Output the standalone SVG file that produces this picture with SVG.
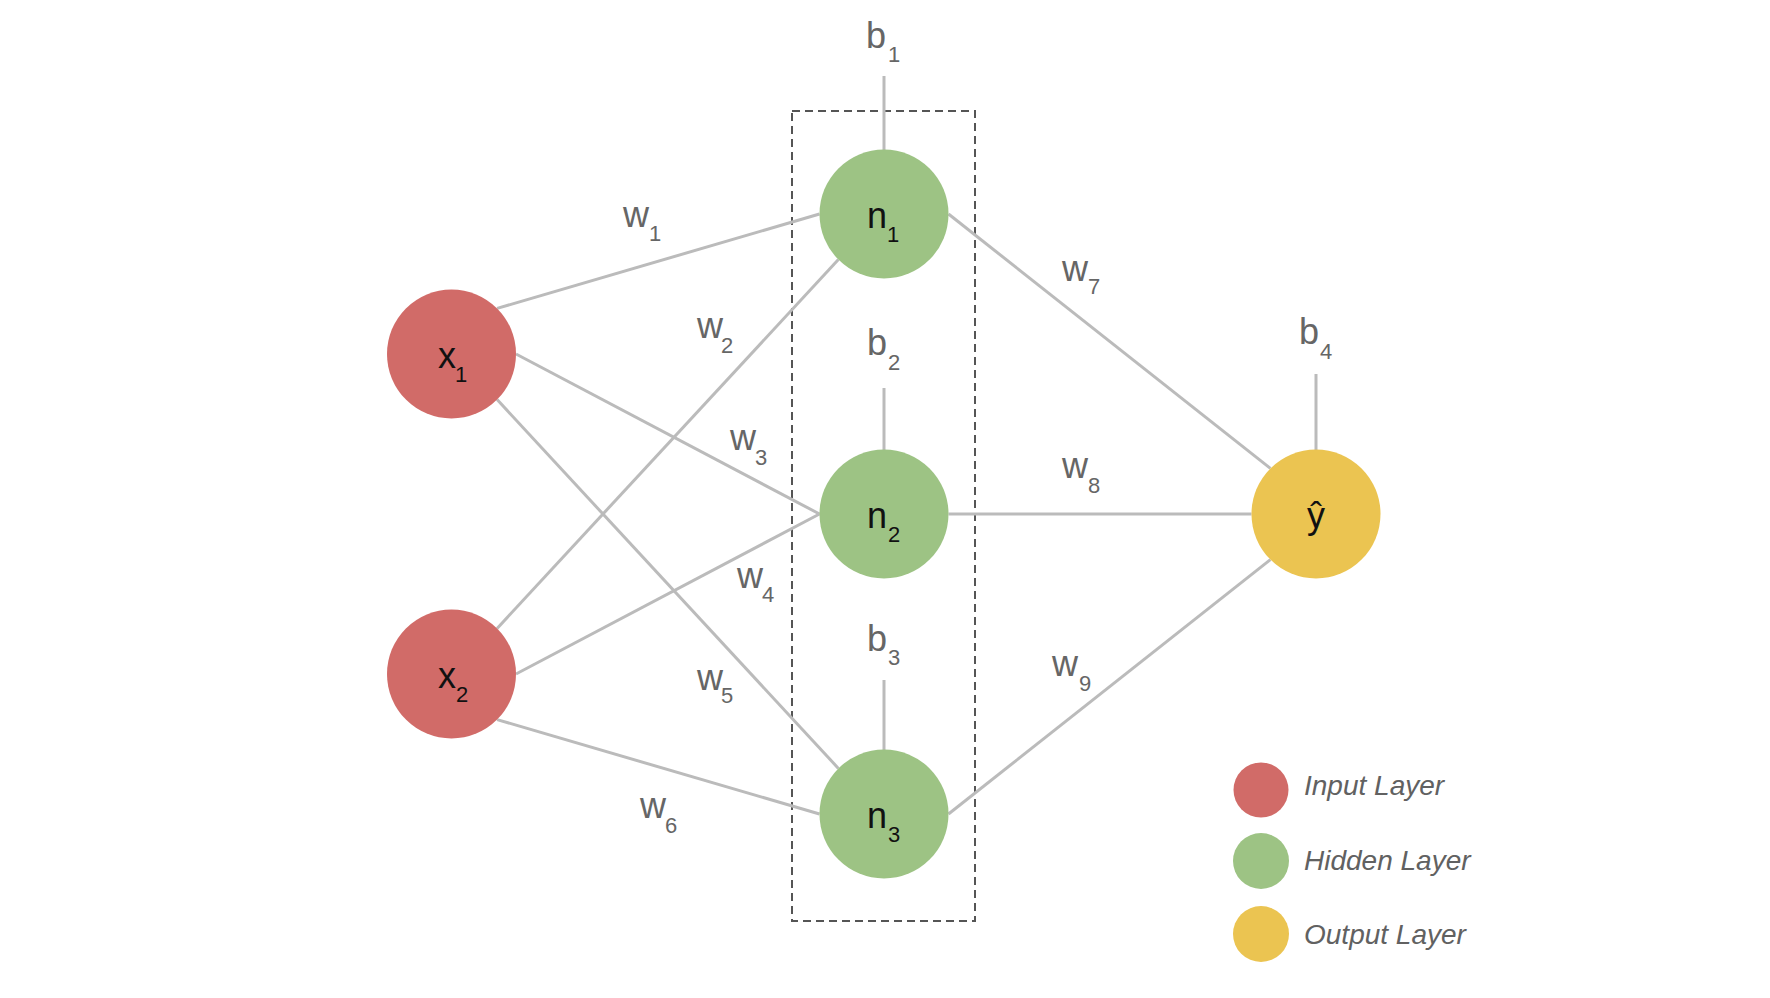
<svg xmlns="http://www.w3.org/2000/svg" width="1770" height="998" viewBox="0 0 1770 998">
<style>
.edge{stroke:#bbbbbb;stroke-width:3;fill:none}
.box{stroke:#555555;stroke-width:2;fill:none;stroke-dasharray:8 5}
.in{fill:#d16b68}
.hid{fill:#9dc384}
.out{fill:#ebc451}
.lbl{font-family:"Liberation Sans",Arial,sans-serif;font-size:36px;fill:#111111}
.gl{font-family:"Liberation Sans",Arial,sans-serif;font-size:36px;fill:#666666}
.sub{font-size:22px}
.leg{font-family:"Liberation Sans",Arial,sans-serif;font-size:28px;font-style:italic;fill:#616161}
</style>
<rect width="1770" height="998" fill="#ffffff"/>
<rect class="box" x="792" y="111" width="183" height="810"/>
<g id="connectors">
<line class="edge" x1="497.1" y1="308.4" x2="819.5" y2="214"/>
<line class="edge" x1="516" y1="354" x2="819.5" y2="514"/>
<line class="edge" x1="497.1" y1="399.6" x2="838.4" y2="768.4"/>
<line class="edge" x1="497.1" y1="628.4" x2="838.4" y2="259.6"/>
<line class="edge" x1="516" y1="674" x2="819.5" y2="514"/>
<line class="edge" x1="497.1" y1="719.6" x2="819.5" y2="814"/>
<line class="edge" x1="948.5" y1="214" x2="1270.4" y2="468.4"/>
<line class="edge" x1="948.5" y1="514" x2="1251.5" y2="514"/>
<line class="edge" x1="948.5" y1="814" x2="1270.4" y2="559.6"/>
<line class="edge" x1="884" y1="76" x2="884" y2="150"/>
<line class="edge" x1="884" y1="388" x2="884" y2="450"/>
<line class="edge" x1="884" y1="680" x2="884" y2="750"/>
<line class="edge" x1="1316" y1="374" x2="1316" y2="450"/>
<text class="gl" x="623" y="227">w<tspan class="sub" x="649" y="241">1</tspan></text>
<text class="gl" x="697" y="338">w<tspan class="sub" x="721" y="353">2</tspan></text>
<text class="gl" x="730" y="450">w<tspan class="sub" x="755" y="465">3</tspan></text>
<text class="gl" x="737" y="588">w<tspan class="sub" x="762" y="602">4</tspan></text>
<text class="gl" x="697" y="690">w<tspan class="sub" x="721" y="703">5</tspan></text>
<text class="gl" x="640" y="818">w<tspan class="sub" x="665" y="833">6</tspan></text>
<text class="gl" x="1062" y="281">w<tspan class="sub" x="1088" y="294">7</tspan></text>
<text class="gl" x="1062" y="478">w<tspan class="sub" x="1088" y="493">8</tspan></text>
<text class="gl" x="1052" y="676">w<tspan class="sub" x="1079" y="691">9</tspan></text>
</g>
<g id="bias1"><text class="gl" x="866" y="48">b<tspan class="sub" x="888" y="62">1</tspan></text></g>
<g id="bias2"><text class="gl" x="867" y="355">b<tspan class="sub" x="888" y="370">2</tspan></text></g>
<g id="bias3"><text class="gl" x="867" y="651">b<tspan class="sub" x="888" y="665">3</tspan></text></g>
<g id="bias4"><text class="gl" x="1299" y="344">b<tspan class="sub" x="1320" y="359">4</tspan></text></g>
<g id="x1"><circle class="in" cx="451.5" cy="354" r="64.5"/><text class="lbl" x="438" y="368">x<tspan class="sub" x="455" y="382">1</tspan></text></g>
<g id="x2"><circle class="in" cx="451.5" cy="674" r="64.5"/><text class="lbl" x="438" y="688">x<tspan class="sub" x="456" y="702">2</tspan></text></g>
<g id="n1"><circle class="hid" cx="884" cy="214" r="64.5"/><text class="lbl" x="867" y="228">n<tspan class="sub" x="887" y="242">1</tspan></text></g>
<g id="n2"><circle class="hid" cx="884" cy="514" r="64.5"/><text class="lbl" x="867" y="528">n<tspan class="sub" x="888" y="542">2</tspan></text></g>
<g id="n3"><circle class="hid" cx="884" cy="814" r="64.5"/><text class="lbl" x="867" y="828">n<tspan class="sub" x="888" y="842">3</tspan></text></g>
<g id="yhat"><circle class="out" cx="1316" cy="514" r="64.5"/><text class="lbl" x="1316" y="528" text-anchor="middle">ŷ</text></g>
<g id="legend">
<circle class="in" cx="1261" cy="790" r="27.5"/><text class="leg" x="1304" y="795">Input Layer</text>
<circle class="hid" cx="1261" cy="861" r="28"/><text class="leg" x="1304" y="870">Hidden Layer</text>
<circle class="out" cx="1261" cy="934" r="28"/><text class="leg" x="1304" y="944">Output Layer</text>
</g>
</svg>
